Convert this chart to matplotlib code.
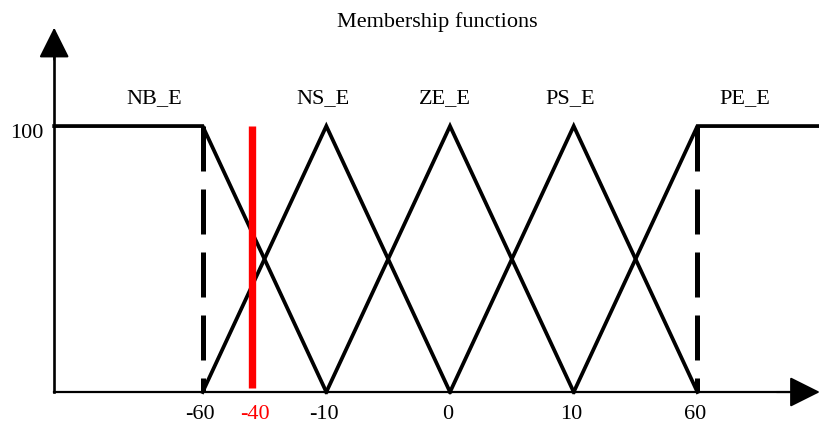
import numpy as np
import matplotlib
matplotlib.use("Agg")
import matplotlib.pyplot as plt

# universe of discourse (ticks are evenly spaced, not linear in value)
tick_values = [-60, -10, 0, 10, 60]
tick_slots = [-2, -1, 0, 1, 2]

mf_names = ["NB_E", "NS_E", "ZE_E", "PS_E", "PE_E"]
mf_x = [[-60, -60, -10], [-60, -10, 0], [-10, 0, 10], [0, 10, 60], [10, 60, 60]]
mf_y = [[100, 100, 0], [0, 100, 0], [0, 100, 0], [0, 100, 0], [0, 100, 100]]
shoulder_level = 100
dashed_values = [-60, 60]
input_value = -40
input_span = [1.5, 100]

AXIS_LEFT = -3.2
AXIS_RIGHT = 2.99
Y_TOP = 137


def pos(v):
    return np.interp(v, tick_values, tick_slots)


fig = plt.figure(figsize=(8.2, 4.25), dpi=100)
ax = fig.add_axes([0, 0, 1, 1])
ax.set_xlim(-3.638, 2.991)
ax.set_ylim(-12.4, 147.4)
ax.axis("off")

serif = ["Liberation Serif", "DejaVu Serif"]
fs = 16

# axes with arrows
ax.plot([AXIS_LEFT, AXIS_RIGHT - 0.25], [0, 0], color="black", lw=1.6, zorder=1)
ax.plot([AXIS_LEFT, AXIS_LEFT], [0, Y_TOP - 8], color="black", lw=1.9, zorder=1)
arrow = dict(arrowstyle="-|>,head_length=19,head_width=9.5", color="black",
             lw=1.5, shrinkA=0, shrinkB=0, mutation_scale=1)
ax.annotate("", xy=(AXIS_LEFT, Y_TOP), xytext=(AXIS_LEFT, Y_TOP - 12), arrowprops=arrow)
ax.annotate("", xy=(AXIS_RIGHT, 0), xytext=(AXIS_RIGHT - 0.35, 0), arrowprops=arrow)

# membership functions
for i, (xs, ys) in enumerate(zip(mf_x, mf_y)):
    px = list(pos(xs))
    if i == 0:
        px = [AXIS_LEFT] + px[1:]
    if i == len(mf_x) - 1:
        px = px[:-1] + [AXIS_RIGHT + 0.1]
    ax.plot(px, ys, color="black", lw=2.7, solid_joinstyle="miter", zorder=3)

# dashed boundaries
for v in dashed_values:
    ax.plot([pos(v), pos(v)], [shoulder_level, 0], color="black", lw=3.6,
            dashes=(9, 3.6), dash_capstyle="butt", zorder=2)

# current input
ax.plot([pos(input_value)] * 2, input_span, color="red", lw=5.3,
        solid_capstyle="butt", zorder=4)

# labels
label_slots = [-2.39, -1.03, -0.04, 0.97, 2.38]
for name, s in zip(mf_names, label_slots):
    ax.text(s, 108.8, name, ha="center", va="baseline", fontsize=fs, family=serif)

for v in tick_values:
    ax.text(pos(v) - 0.02, -10.2, str(v), ha="center", va="baseline",
            fontsize=fs, family=serif)
ax.text(pos(input_value) + 0.02, -10.2, str(input_value), ha="center",
        va="baseline", fontsize=fs, family=serif, color="red")
ax.text(AXIS_LEFT - 0.09, 95.5, "100", ha="right", va="baseline",
        fontsize=fs, family=serif)

fig.text(437 / 820, 1 - 27 / 425, "Membership functions", ha="center",
         va="baseline", fontsize=fs, family=serif)

fig.savefig("out.png", dpi=100)
